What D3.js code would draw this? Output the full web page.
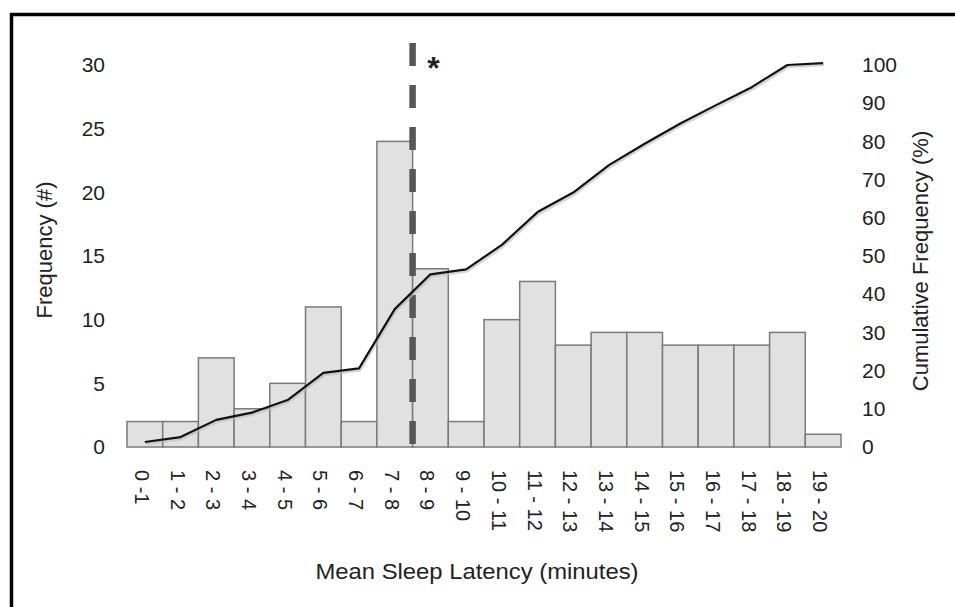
<!DOCTYPE html>
<html>
<head>
<meta charset="utf-8">
<script src="https://cdn.jsdelivr.net/npm/d3@7"></script>
<style>
  body { margin: 0; background: #fff; }
  svg { display: block; font-family: "Liberation Sans", Arial, sans-serif; }
</style>
</head>
<body>
<svg id="chart" width="955" height="607"></svg>
<script>
// bins of mean sleep latency, counts and cumulative percentage
const categories = ["0 -1", "1 - 2", "2 - 3", "3 - 4", "4 - 5", "5 - 6", "6 - 7", "7 - 8", "8 - 9", "9 - 10",
  "10 - 11", "11 - 12", "12 - 13", "13 - 14", "14 - 15", "15 - 16", "16 - 17", "17 - 18", "18 - 19", "19 - 20"];
const frequency = [2, 2, 7, 3, 5, 11, 2, 24, 14, 2, 10, 13, 8, 9, 9, 8, 8, 8, 9, 1];
const cumulative = [1.3, 2.6, 7.1, 9.0, 12.3, 19.4, 20.6, 36.1, 45.2, 46.5, 52.9, 61.5, 66.6, 73.8, 79.4, 84.7, 89.5, 94.2, 100, 100.5];
const leftTicks = [0, 5, 10, 15, 20, 25, 30];
const rightTicks = [0, 10, 20, 30, 40, 50, 60, 70, 80, 90, 100];
const markerAt = "8 - 9"; // dashed line sits on the left edge of this bin

const svg = d3.select("#chart");
const margin = { left: 127, right: 841, top: 65, bottom: 447 };
const textColor = "#222";

// frame
svg.append("rect")
  .attr("x", 11.5).attr("y", 14.5)
  .attr("width", 1000).attr("height", 1000)
  .attr("fill", "none").attr("stroke", "#000").attr("stroke-width", 3.5);

const x = d3.scaleBand().domain(categories).range([margin.left, margin.right]).padding(0);
const y = d3.scaleLinear().domain([0, 30]).range([margin.bottom, margin.top]);
const y2 = d3.scaleLinear().domain([0, 100]).range([margin.bottom, margin.top]);

// bars
svg.append("g")
  .selectAll("rect")
  .data(frequency)
  .join("rect")
  .attr("x", (d, i) => x(categories[i]))
  .attr("y", d => y(d))
  .attr("width", x.bandwidth())
  .attr("height", d => y(0) - y(d))
  .attr("fill", "#e1e1e1")
  .attr("stroke", "#7a7a7a")
  .attr("stroke-width", 1.5);

// left axis
const gl = svg.append("g")
  .attr("transform", "translate(105,0)")
  .call(d3.axisLeft(y).tickValues(leftTicks).tickSize(0).tickPadding(0));
gl.select(".domain").remove();
gl.selectAll("text").attr("font-size", 21).attr("fill", textColor).attr("font-family", null);

// right axis
const gr = svg.append("g")
  .attr("transform", "translate(862,0)")
  .call(d3.axisRight(y2).tickValues(rightTicks).tickSize(0).tickPadding(0));
gr.select(".domain").remove();
gr.selectAll("text").attr("font-size", 21).attr("fill", textColor).attr("font-family", null);

// bottom axis, labels turned to read downward
const gb = svg.append("g")
  .attr("transform", "translate(0,470)")
  .call(d3.axisBottom(x).tickSize(0).tickPadding(0));
gb.select(".domain").remove();
gb.selectAll("text")
  .attr("font-size", 20)
  .attr("fill", textColor)
  .attr("font-family", null)
  .attr("transform", "rotate(90)")
  .attr("x", 0).attr("y", 0).attr("dy", "0.5em")
  .attr("text-anchor", "start");

// dashed marker
const mx = x(markerAt);
svg.append("line")
  .attr("x1", mx).attr("x2", mx)
  .attr("y1", 43).attr("y2", 450)
  .attr("stroke", "#575757").attr("stroke-width", 6.5)
  .attr("stroke-dasharray", "23 19");
svg.append("text")
  .attr("x", mx + 21).attr("y", 79)
  .attr("text-anchor", "middle")
  .attr("font-size", 32).attr("font-weight", "bold")
  .attr("fill", textColor)
  .text("*");

// cumulative line with a soft shadow
const line = d3.line()
  .x((d, i) => x(categories[i]) + x.bandwidth() / 2)
  .y(d => y2(d));
svg.append("path")
  .datum(cumulative)
  .attr("d", line)
  .attr("transform", "translate(1,2)")
  .attr("fill", "none").attr("stroke", "#bbb").attr("stroke-width", 2.5).attr("opacity", 0.6);
svg.append("path")
  .datum(cumulative)
  .attr("d", line)
  .attr("fill", "none").attr("stroke", "#111").attr("stroke-width", 2.2)
  .attr("stroke-linejoin", "round");

// titles
svg.append("text")
  .attr("transform", "translate(52,250) rotate(-90)")
  .attr("text-anchor", "middle")
  .attr("font-size", 22).attr("fill", textColor)
  .text("Frequency (#)");
svg.append("text")
  .attr("transform", "translate(928,261) rotate(-90)")
  .attr("text-anchor", "middle")
  .attr("font-size", 22).attr("fill", textColor)
  .text("Cumulative Frequency (%)");
svg.append("text")
  .attr("x", 477).attr("y", 579)
  .attr("text-anchor", "middle")
  .attr("font-size", 22).attr("fill", textColor)
  .attr("textLength", 323).attr("lengthAdjust", "spacingAndGlyphs")
  .text("Mean Sleep Latency (minutes)");
</script>
</body>
</html>
